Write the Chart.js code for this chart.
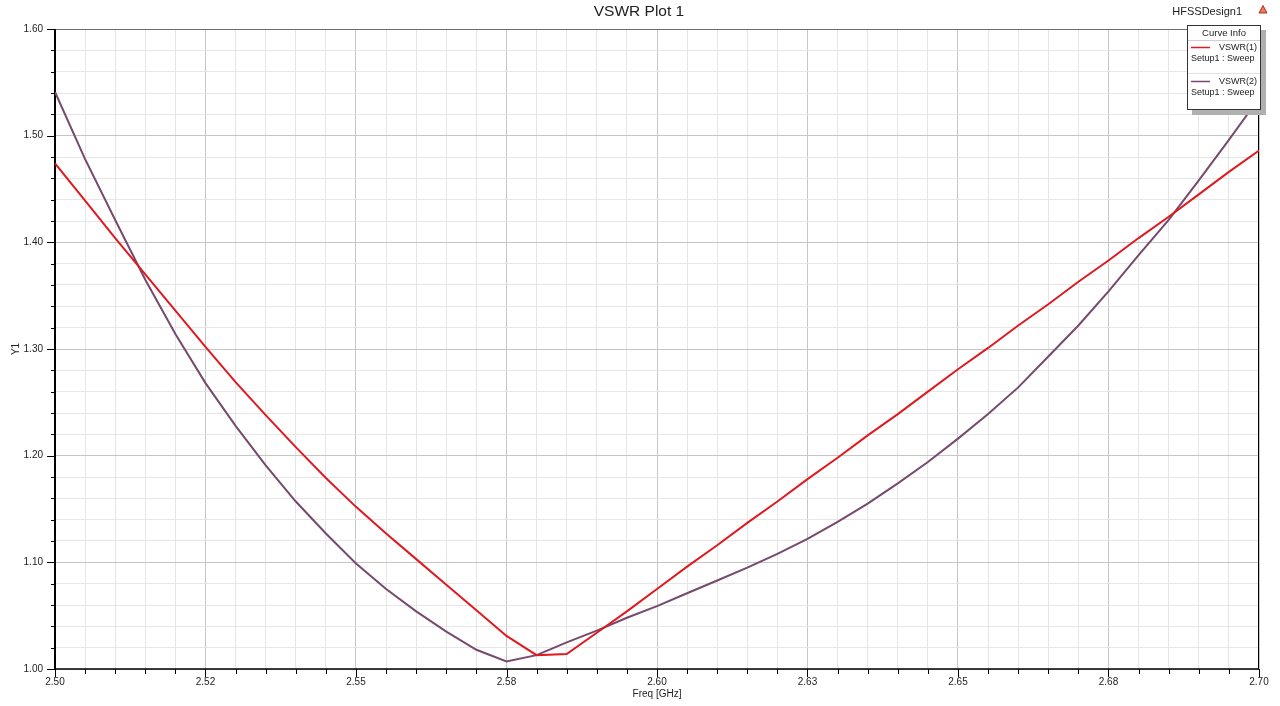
<!DOCTYPE html>
<html><head><meta charset="utf-8">
<script src="https://cdn.jsdelivr.net/npm/chart.js@4/dist/chart.umd.min.js"></script>
<style>html,body{margin:0;padding:0;background:#fff;} #wrap{width:1280px;height:706px;}</style>
</head><body><div id="wrap"><canvas id="c" width="1280" height="706"></canvas></div>
<script>
const freq = [2.500,2.505,2.510,2.515,2.520,2.525,2.530,2.535,2.540,2.545,2.550,2.555,2.560,2.565,2.570,2.575,2.580,2.585,2.590,2.595,2.600,2.605,2.610,2.615,2.620,2.625,2.630,2.635,2.640,2.645,2.650,2.655,2.660,2.665,2.670,2.675,2.680,2.685,2.690,2.695,2.700];
const vswr1 = [1.474,1.439,1.404,1.370,1.336,1.302,1.269,1.238,1.208,1.179,1.152,1.127,1.103,1.079,1.055,1.031,1.013,1.014,1.034,1.054,1.075,1.096,1.116,1.137,1.157,1.178,1.198,1.219,1.239,1.260,1.281,1.301,1.322,1.342,1.363,1.383,1.404,1.424,1.445,1.466,1.486];
const vswr2 = [1.541,1.478,1.421,1.365,1.314,1.268,1.228,1.191,1.157,1.127,1.099,1.075,1.054,1.035,1.018,1.007,1.013,1.025,1.036,1.048,1.059,1.071,1.083,1.095,1.108,1.122,1.138,1.155,1.174,1.194,1.216,1.239,1.264,1.293,1.322,1.354,1.388,1.421,1.458,1.496,1.535];
const xTickLabels = ['2.50','2.52','2.55','2.58','2.60','2.63','2.65','2.68','2.70'];
const yTickLabels = ['1.00','1.10','1.20','1.30','1.40','1.50','1.60'];
const seriesNames = ['VSWR(1)','VSWR(2)'];
const seriesSetup = ['Setup1 : Sweep','Setup1 : Sweep'];
const chartTitle = 'VSWR Plot 1';
const designName = 'HFSSDesign1';
const legendTitle = 'Curve Info';
const xTitle = 'Freq [GHz]';
const yTitle = 'Y1';

const FONT = "'Liberation Sans', Arial, Helvetica, sans-serif";
const colors = ['#de1a20', '#754a6d'];
const TXT = '#222';

const xTickVals = []; for (let i = 0; i <= 40; i++) xTickVals.push((2500 + 5 * i) / 1000);
const yTickVals = []; for (let i = 0; i <= 30; i++) yTickVals.push((100 + 2 * i) / 100);

const decor = {
  id: 'decor',
  beforeDatasetsDraw(chart) {
    const {ctx, chartArea: a, scales: {x, y}} = chart;
    ctx.save();
    ctx.strokeStyle = '#000'; ctx.lineWidth = 1;
    x.ticks.forEach((t, i) => {
      const px = Math.round(x.getPixelForValue(t.value)) + 0.5;
      const len = i % 5 === 0 ? 8 : 5;
      ctx.beginPath(); ctx.moveTo(px, a.bottom); ctx.lineTo(px, a.bottom + len); ctx.stroke();
    });
    y.ticks.forEach((t, i) => {
      const py = Math.round(y.getPixelForValue(t.value)) + 0.5;
      const len = i % 5 === 0 ? 8 : 4;
      ctx.beginPath(); ctx.moveTo(a.left, py); ctx.lineTo(a.left - len, py); ctx.stroke();
    });
    ctx.strokeStyle = '#6e6e6e'; ctx.lineWidth = 1;
    ctx.beginPath(); ctx.moveTo(a.left, Math.round(a.top) + 0.5); ctx.lineTo(a.right, Math.round(a.top) + 0.5); ctx.stroke();
    ctx.strokeStyle = '#000';
    ctx.beginPath(); ctx.moveTo(Math.round(a.right) - 0.5, a.top); ctx.lineTo(Math.round(a.right) - 0.5, a.bottom); ctx.stroke();
    ctx.lineWidth = 1.5;
    ctx.beginPath(); ctx.moveTo(a.left - 1, a.bottom); ctx.lineTo(a.right, a.bottom); ctx.stroke();
    ctx.lineWidth = 2;
    ctx.beginPath(); ctx.moveTo(a.left, a.top); ctx.lineTo(a.left, a.bottom + 1); ctx.stroke();
    ctx.restore();
  },
  afterDraw(chart) {
    const {ctx} = chart;
    ctx.save();
    ctx.fillStyle = TXT;
    ctx.textBaseline = 'middle';
    ctx.textAlign = 'center';
    ctx.font = '15.5px ' + FONT;
    ctx.fillText(chartTitle, 639, 12);
    ctx.font = '11px ' + FONT;
    ctx.textAlign = 'right';
    ctx.fillText(designName, 1242, 12);
    ctx.beginPath(); ctx.moveTo(1263, 5.5); ctx.lineTo(1267, 13); ctx.lineTo(1259, 13); ctx.closePath();
    ctx.fillStyle = '#e97a62'; ctx.fill();
    ctx.strokeStyle = '#b03020'; ctx.lineWidth = 1; ctx.stroke();
    const L = 1187, T = 25, R = 1261, B = 110;
    ctx.fillStyle = '#b0b0b0';
    ctx.fillRect(L + 5, T + 5, R - L, B - T);
    ctx.fillStyle = '#fff';
    ctx.fillRect(L, T, R - L, B - T);
    ctx.strokeStyle = '#333'; ctx.lineWidth = 1;
    ctx.strokeRect(L + 0.5, T + 0.5, R - L - 1, B - T - 1);
    ctx.strokeStyle = '#cfcfcf';
    ctx.beginPath(); ctx.moveTo(L + 1, 40.5); ctx.lineTo(R - 1, 40.5); ctx.stroke();
    ctx.strokeStyle = '#e2e2e2';
    ctx.beginPath(); ctx.moveTo(L + 1, 73.5); ctx.lineTo(R - 1, 73.5); ctx.stroke();
    ctx.fillStyle = TXT;
    ctx.textAlign = 'center';
    ctx.font = '9.5px ' + FONT;
    ctx.fillText(legendTitle, 1224, 33);
    ctx.font = '9px ' + FONT;
    const rows = [{ly: 47.5, sy: 58.5}, {ly: 81.5, sy: 92.5}];
    rows.forEach((r, i) => {
      ctx.strokeStyle = colors[i]; ctx.lineWidth = 1.5;
      ctx.beginPath(); ctx.moveTo(1191, r.ly); ctx.lineTo(1210, r.ly); ctx.stroke();
      ctx.fillStyle = TXT;
      ctx.textAlign = 'right';
      ctx.fillText(seriesNames[i], 1257, r.ly);
      ctx.textAlign = 'left';
      ctx.fillText(seriesSetup[i], 1191, r.sy);
    });
    ctx.restore();
  }
};

Chart.defaults.font.family = FONT;
Chart.defaults.color = TXT;

new Chart(document.getElementById('c'), {
  type: 'line',
  data: {
    datasets: [
      {label: seriesNames[0], data: freq.map((f, i) => ({x: f, y: vswr1[i]})), borderColor: colors[0], borderWidth: 2, pointRadius: 0, tension: 0, fill: false},
      {label: seriesNames[1], data: freq.map((f, i) => ({x: f, y: vswr2[i]})), borderColor: colors[1], borderWidth: 2, pointRadius: 0, tension: 0, fill: false}
    ]
  },
  options: {
    responsive: false,
    animation: false,
    devicePixelRatio: 1,
    layout: {padding: {left: 0, right: 21, top: 29, bottom: 0}},
    plugins: {legend: {display: false}, title: {display: false}, tooltip: {enabled: false}},
    scales: {
      x: {
        type: 'linear', min: 2.5, max: 2.7,
        afterBuildTicks: s => { s.ticks = xTickVals.map(v => ({value: v})); },
        afterFit: s => { s.height = 37; },
        ticks: {autoSkip: false, maxRotation: 0, padding: 7, font: {size: 10}, color: TXT,
          callback: (v, i) => i % 5 === 0 ? xTickLabels[i / 5] : ''},
        grid: {drawTicks: false, lineWidth: 1, color: c => (c.index % 5 === 0 ? '#c6c6c6' : '#e6e6e6')},
        border: {display: false},
        title: {display: true, text: xTitle, font: {size: 10}, color: TXT, padding: {top: 0, bottom: 6}}
      },
      y: {
        type: 'linear', min: 1.0, max: 1.6,
        afterBuildTicks: s => { s.ticks = yTickVals.map(v => ({value: v})); },
        afterFit: s => { s.width = 55; },
        ticks: {autoSkip: false, padding: 12, font: {size: 10}, color: TXT,
          callback: (v, i) => i % 5 === 0 ? yTickLabels[i / 5] : ''},
        grid: {drawTicks: false, lineWidth: 1, color: c => (c.index % 5 === 0 ? '#c6c6c6' : '#e6e6e6')},
        border: {display: false},
        title: {display: true, text: yTitle, font: {size: 10}, color: TXT, padding: {top: 10, bottom: 0}}
      }
    }
  },
  plugins: [decor]
});
</script>
</body></html>
